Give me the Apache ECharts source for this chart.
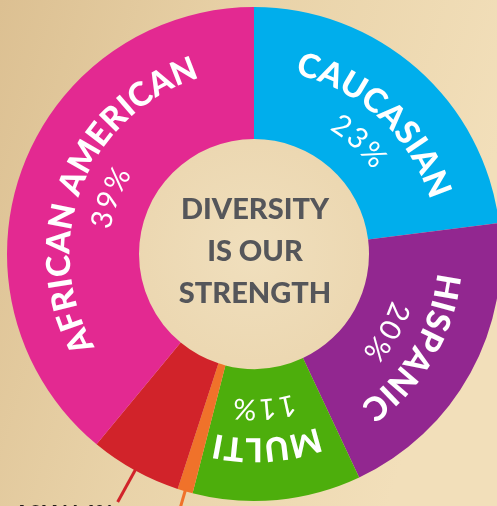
<!DOCTYPE html>
<html><head><meta charset="utf-8">
<script src="https://cdn.jsdelivr.net/npm/echarts@6/dist/echarts.min.js"></script>
<style>html,body{margin:0;padding:0;background:#e6cfa3;}#c{width:497px;height:506px;}</style>
</head><body><div id="c"></div>
<script>
// ---- data ----
const categories = ['CAUCASIAN', 'HISPANIC', 'MULTI', 'OTHER', 'ASIAN', 'AFRICAN AMERICAN'];
const values = [23, 20, 11, 1, 6, 39];
const colors = ['#00aeec', '#922790', '#4dae0c', '#f0722a', '#d1232a', '#e32991'];
const curvedLabel = [true, true, true, false, false, true];
const outsideLabel = [false, false, false, false, true, false];
const centerLines = ['DIVERSITY', 'IS OUR', 'STRENGTH'];

// ---- layout ----
const chart = echarts.init(document.getElementById('c'), null, {renderer: 'canvas'});
const cx = 254, cy = 254, r0 = 115, r1 = 247;
const nameR = 195, valR = 155;
const textShiftDeg = 1.5;
const nameFont = '900 33px Lato';
const valFont = '400 29px Lato';

const mctx = document.createElement('canvas').getContext('2d');
function arcText(str, midDeg, radius, font, spacing, fill) {
  mctx.font = font;
  const chars = [...str];
  const widths = chars.map(ch => mctx.measureText(ch).width);
  const total = widths.reduce((a, b) => a + b, 0) + spacing * (chars.length - 1);
  let s = -total / 2;
  const els = [];
  chars.forEach((ch, i) => {
    const c = s + widths[i] / 2;
    const th = midDeg * Math.PI / 180 + c / radius;
    if (ch !== ' ') {
      els.push({
        type: 'text', silent: true, z: 10,
        x: cx + radius * Math.sin(th), y: cy - radius * Math.cos(th),
        rotation: -th,
        style: {text: ch, font: font, fill: fill, align: 'center', verticalAlign: 'middle',
                textAlign: 'center', textVerticalAlign: 'middle'}
      });
    }
    s += widths[i] + spacing;
  });
  return els;
}
function polar(deg, r) {
  const t = deg * Math.PI / 180;
  return [cx + r * Math.sin(t), cy - r * Math.cos(t)];
}

const total = values.reduce((a, b) => a + b, 0);
let acc = 0;
let graphics = [
  {type: 'circle', silent: true, z: 1, shape: {cx: cx, cy: cy, r: r0},
   style: {fill: {type: 'radial', x: 0.5, y: 0.5, r: 0.6, colorStops: [{offset: 0, color: '#f0dfbd'}, {offset: 1, color: '#ebd6af'}]}}},
  {type: 'text', silent: true, z: 10, x: cx + 1, y: cy - 2,
   style: {text: centerLines.join('\n'), font: '900 29px Lato', lineHeight: 42, fill: '#55565a',
           align: 'center', verticalAlign: 'middle', textAlign: 'center', textVerticalAlign: 'middle'}}
];
values.forEach((v, i) => {
  const mid = (acc + v / 2) / total * 360;
  acc += v;
  if (curvedLabel[i]) {
    graphics = graphics.concat(arcText(categories[i], mid + textShiftDeg, nameR, nameFont, 1.5, '#ffffff'));
    graphics = graphics.concat(arcText(v + '%', mid + textShiftDeg, valR, valFont, 3, '#ffffff'));
  } else {
    const ext = outsideLabel[i] ? 36 : 30;
    const p1 = polar(mid, r1 - 2), p2 = polar(mid, r1 + ext);
    graphics.push({type: 'line', silent: true, z: 5, shape: {x1: p1[0], y1: p1[1], x2: p2[0], y2: p2[1]},
                   style: {stroke: colors[i], lineWidth: 3}});
    if (outsideLabel[i]) {
      graphics.push({type: 'text', silent: true, z: 10, x: p2[0] - 5, y: p2[1] + 1,
        style: {text: categories[i] + ' ' + v + '%', font: '900 21px Lato', fill: '#1f1a17',
                align: 'right', verticalAlign: 'top', textAlign: 'right', textVerticalAlign: 'top'}});
    }
  }
});

chart.setOption({
  animation: false,
  backgroundColor: {type: 'linear', x: 0, y: 0, x2: 1, y2: 0.3,
    colorStops: [{offset: 0, color: '#dcc092'}, {offset: 0.5, color: '#e9d3a9'}, {offset: 1, color: '#f2dfba'}]},
  series: [{
    type: 'pie', center: [cx, cy], radius: [r0, r1], startAngle: 90, clockwise: true,
    avoidLabelOverlap: false, silent: true, emphasis: {disabled: true},
    label: {show: false}, labelLine: {show: false},
    data: categories.map((n, i) => ({name: n, value: values[i], itemStyle: {color: colors[i]}}))
  }],
  graphic: {elements: graphics}
});
</script></body></html>
